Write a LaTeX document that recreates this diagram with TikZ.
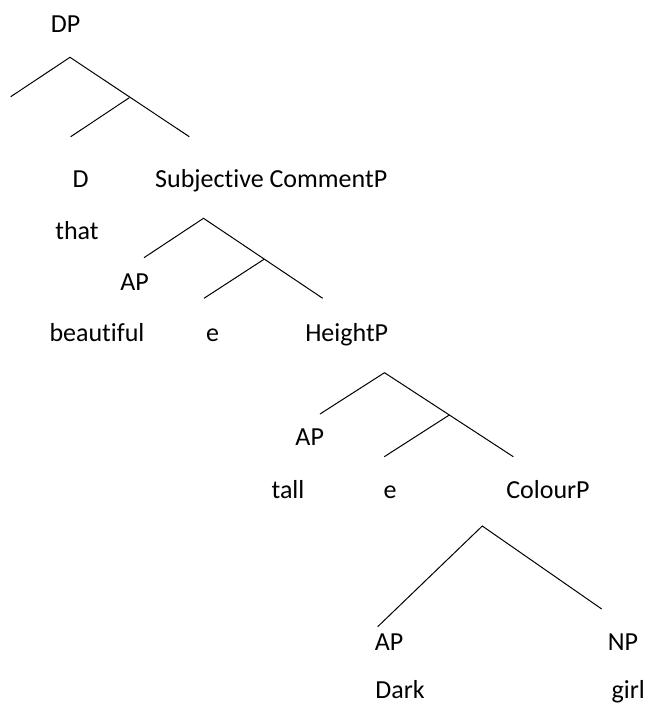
\documentclass[tikz,border=0pt]{standalone}
\usepackage{fontspec}
\setmainfont{Carlito}[RawFeature={-liga,-clig,-dlig}]
\begin{document}
\begin{tikzpicture}[x=1pt,y=-1pt,
  lbl/.style={inner sep=0pt,anchor=base,font=\fontsize{26}{31}\selectfont},
  branch/.style={line width=1pt,black}]
\useasboundingbox (0,0) rectangle (646,705);
% labels
\node[lbl] (dp) at (65.5,32) {DP};
\node[lbl] (d) at (80.5,187) {D};
\node[lbl,anchor=base west] (scp) at (155,187) {Subjective CommentP};
\node[lbl] (that) at (77,239.5) {that};
\node[lbl] (ap1) at (134.5,290.7) {AP};
\node[lbl] (beautiful) at (97,341.7) {beautiful};
\node[lbl] (e1) at (212.5,341.7) {e};
\node[lbl] (heightp) at (346.7,341.7) {HeightP};
\node[lbl] (ap2) at (309.7,445.5) {AP};
\node[lbl] (tall) at (288,498.3) {tall};
\node[lbl] (e2) at (390,498.3) {e};
\node[lbl] (colourp) at (548,498.3) {ColourP};
\node[lbl] (ap3) at (389,650) {AP};
\node[lbl] (np) at (623,650) {NP};
\node[lbl] (dark) at (400,698.5) {Dark};
\node[lbl] (girl) at (628.3,698.5) {girl};
% tree 1
\coordinate (t1a) at (70,57.3);
\coordinate (t1l) at (10.7,96.7);
\coordinate (t1j) at (129.3,97.7);
\coordinate (t1m) at (70.7,136.7);
\coordinate (t1r) at (189.3,136.7);
\draw[branch] (t1l) -- (t1a) -- (t1r);
\draw[branch] (t1m) -- (t1j);
% tree 2
\coordinate (t2a) at (203.5,218.3);
\coordinate (t2l) at (144,257.7);
\coordinate (t2j) at (264,259.3);
\coordinate (t2m) at (204,298.3);
\coordinate (t2r) at (322.7,298.3);
\draw[branch] (t2l) -- (t2a) -- (t2r);
\draw[branch] (t2m) -- (t2j);
% tree 3
\coordinate (t3a) at (384.5,372.7);
\coordinate (t3l) at (320,414);
\coordinate (t3j) at (449.3,415);
\coordinate (t3m) at (384.3,456.7);
\coordinate (t3r) at (513.3,456.7);
\draw[branch] (t3l) -- (t3a) -- (t3r);
\draw[branch] (t3m) -- (t3j);
% tree 4
\coordinate (t4a) at (482.3,526);
\coordinate (t4l) at (377.7,626.7);
\coordinate (t4r) at (601.7,609);
\draw[branch] (t4l) -- (t4a) -- (t4r);
\end{tikzpicture}
\end{document}
